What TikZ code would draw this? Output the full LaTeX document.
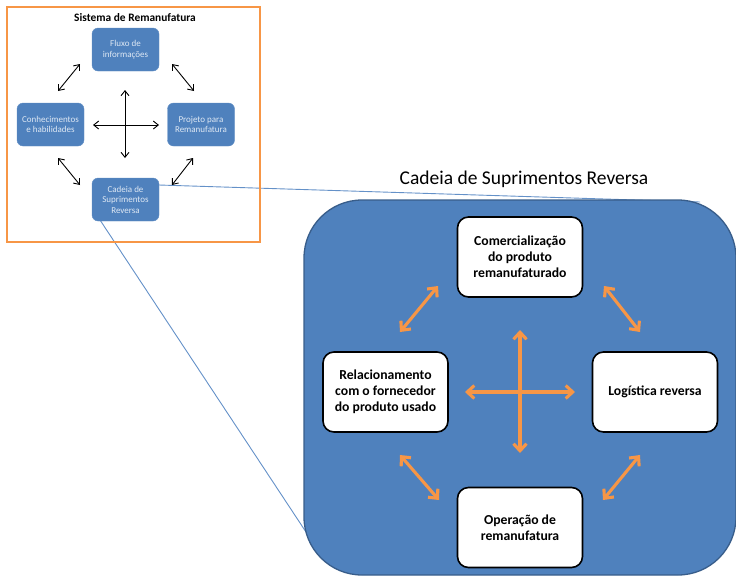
\documentclass[tikz,border=0pt]{standalone}
\usepackage{fontspec}
\setmainfont{Carlito}
\usetikzlibrary{arrows.meta}
\definecolor{boxblue}{RGB}{79,129,189}
\definecolor{edgeblue}{RGB}{56,93,138}
\definecolor{linkblue}{RGB}{100,145,200}
\definecolor{accent}{RGB}{247,150,70}
\definecolor{softtext}{RGB}{222,232,244}
\tikzset{
  smallbox/.style={draw=boxblue!90!white, fill=boxblue, rounded corners=6pt,
    minimum width=67pt, minimum height=43pt, inner sep=1pt, align=center,
    text=softtext, font=\fontsize{9}{10.5}\selectfont},
  whitebox/.style={draw=black, line width=1.6pt, fill=white, rounded corners=11pt,
    minimum width=125pt, minimum height=80pt, inner sep=2pt, align=center,
    font=\fontsize{13.7}{16}\selectfont\bfseries},
  blackarrow/.style={draw=black, line width=0.9pt, {Straight Barb[length=5pt,width=8pt]}-{Straight Barb[length=5pt,width=8pt]}},
  orangearrow/.style={draw=accent, line width=3.1pt, {Straight Barb[length=7pt,width=13pt]}-{Straight Barb[length=7pt,width=13pt]}},
  linkline/.style={draw=linkblue, line width=0.9pt},
}
\begin{document}
\begin{tikzpicture}[x=1pt,y=-1pt]
\useasboundingbox (0,0) rectangle (736,576);

% connector end points
\coordinate (l1a) at (159,185);
\coordinate (l1b) at (700,202);
\coordinate (l2a) at (100,220);
\coordinate (l2b) at (306,532);

% zoom lines from the small supply-chain box to the enlarged view
\draw[linkline] (l1a) -- (l1b);
\draw[linkline] (l2a) -- (l2b);

% remanufacturing system frame
\node[draw=accent, line width=2.2pt, minimum width=253pt, minimum height=235pt, inner sep=0pt] (frame) at (133.5,124.5) {};
\node[font=\fontsize{11.4}{13}\selectfont\bfseries] (systitle) at (135,18) {Sistema de Remanufatura};

\node[smallbox] (flux) at (125.5,49.5) {Fluxo de\\informações};
\node[smallbox] (conh) at (50.5,124.5) {Conhecimentos\\e habilidades};
\node[smallbox] (proj) at (201,124.5) {Projeto para\\Remanufatura};
\node[smallbox] (cad) at (125.5,199.5) {Cadeia de\\Suprimentos\\Reversa};

% small arrow end points
\coordinate (s1a) at (80,64);   \coordinate (s1b) at (58,91);
\coordinate (s2a) at (172,64);  \coordinate (s2b) at (194,91);
\coordinate (s3a) at (58,158);  \coordinate (s3b) at (80,185);
\coordinate (s4a) at (193,158); \coordinate (s4b) at (172,185);
\coordinate (sv1) at (125,90);  \coordinate (sv2) at (125,158);
\coordinate (sh1) at (93,125);  \coordinate (sh2) at (159,125);

\draw[blackarrow] (s1a) -- (s1b);
\draw[blackarrow] (s2a) -- (s2b);
\draw[blackarrow] (s3a) -- (s3b);
\draw[blackarrow] (s4a) -- (s4b);
\draw[blackarrow] (sv1) -- (sv2);
\draw[blackarrow] (sh1) -- (sh2);

% enlarged reverse supply chain
\node[font=\fontsize{19.5}{23}\selectfont] (chaintitle) at (524,179) {Cadeia de Suprimentos Reversa};
\node[draw=edgeblue, line width=1.3pt, fill=boxblue, rounded corners=58pt,
  minimum width=432pt, minimum height=375pt, inner sep=0pt] (chain) at (520,387.5) {};

\node[whitebox] (com) at (520,257) {Comercialização\\do produto\\remanufaturado};
\node[whitebox] (rel) at (385.5,392) {Relacionamento\\com o fornecedor\\do produto usado};
\node[whitebox] (logi) at (655,392) {Logística reversa};
\node[whitebox] (ope) at (520,527.5) {Operação de\\remanufatura};

% orange arrow end points
\coordinate (o1a) at (438,286); \coordinate (o1b) at (400,332);
\coordinate (o2a) at (604,286); \coordinate (o2b) at (640,332);
\coordinate (o3a) at (400,455); \coordinate (o3b) at (439,500);
\coordinate (o4a) at (640,455); \coordinate (o4b) at (603,500);
\coordinate (ov1) at (520,330); \coordinate (ov2) at (520,453);
\coordinate (oh1) at (465,392); \coordinate (oh2) at (575,392);

\draw[orangearrow] (o1a) -- (o1b);
\draw[orangearrow] (o2a) -- (o2b);
\draw[orangearrow] (o3a) -- (o3b);
\draw[orangearrow] (o4a) -- (o4b);
\draw[orangearrow] (ov1) -- (ov2);
\draw[orangearrow] (oh1) -- (oh2);
\end{tikzpicture}
\end{document}
